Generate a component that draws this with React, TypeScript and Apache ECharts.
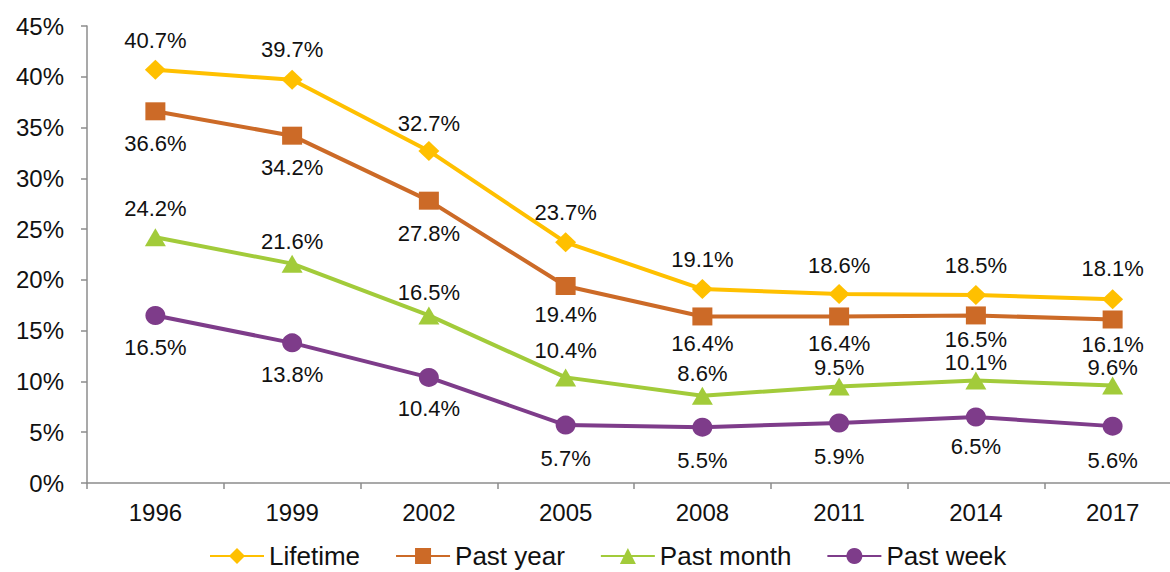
import React, { useEffect, useRef } from "react";
import * as echarts from "echarts";

const years = ["1996", "1999", "2002", "2005", "2008", "2011", "2014", "2017"];
const lifetime = [40.7, 39.7, 32.7, 23.7, 19.1, 18.6, 18.5, 18.1];
const pastYear = [36.6, 34.2, 27.8, 19.4, 16.4, 16.4, 16.5, 16.1];
const pastMonth = [24.2, 21.6, 16.5, 10.4, 8.6, 9.5, 10.1, 9.6];
const pastWeek = [16.5, 13.8, 10.4, 5.7, 5.5, 5.9, 6.5, 5.6];

// label centre distance from the point (px), as placed in the original
const lifetimeLabelGap = [29, 30, 27, 30, 30, 29, 30, 31];
const pastYearLabelGap = [32, 32, 33, 29, 27, 27, 24, 25];
const pastMonthLabelGap = [29, 22, 23, 27, 22, 19, 17, 16];
const pastWeekLabelGap = [32, 32, 31, 33, 33, 33, 30, 34];

const FONT = "'Liberation Sans', Arial, sans-serif";

export default function App() {
  const ref = useRef<HTMLDivElement>(null);
  useEffect(() => {
    if (!ref.current) return;
    const chart = echarts.init(ref.current, undefined, { renderer: "svg" });
    const mk = (
      name: string,
      values: number[],
      gaps: number[],
      color: string,
      symbol: string,
      size: number[],
      pos: string
    ) => ({
      name,
      type: "line",
      data: values.map((v, i) => ({
        value: v,
        label: { distance: Math.max(0, gaps[i] - size[1] / 2 - 9) },
      })),
      symbol,
      symbolSize: size,
      lineStyle: { color, width: 4 },
      itemStyle: { color },
      label: {
        show: true,
        position: pos,
        formatter: (p: any) => Number(p.value).toFixed(1) + "%",
        color: "#111",
        fontSize: 22,
        lineHeight: 18,
        fontFamily: FONT,
      },
    });
    chart.setOption({
      animation: false,
      textStyle: { fontFamily: FONT },
      grid: { left: 87, right: 0, top: 26, bottom: 89 },
      legend: {
        left: 209,
        top: 543,
        padding: 0,
        itemWidth: 54,
        itemHeight: 20,
        itemGap: 35,
        textStyle: { fontSize: 26, lineHeight: 20, color: "#111", fontFamily: FONT },
        data: ["Lifetime", "Past year", "Past month", "Past week"],
      },
      xAxis: {
        type: "category",
        data: years,
        boundaryGap: true,
        axisLine: { lineStyle: { color: "#8c8c8c", width: 1.5 } },
        axisTick: { show: true, length: 6, lineStyle: { color: "#8c8c8c", width: 1.5 } },
        axisLabel: { fontSize: 24, color: "#111", margin: 17, fontFamily: FONT },
        splitLine: { show: false },
      },
      yAxis: {
        type: "value",
        min: 0,
        max: 45,
        interval: 5,
        axisLine: { show: true, lineStyle: { color: "#8c8c8c", width: 1.5 } },
        axisTick: { show: true, length: 6, lineStyle: { color: "#8c8c8c", width: 1.5 } },
        axisLabel: { fontSize: 24, color: "#111", margin: 23, formatter: "{value}%", fontFamily: FONT },
        splitLine: { show: false },
      },
      series: [
        mk("Lifetime", lifetime, lifetimeLabelGap, "#FFC000", "diamond", [21, 20], "top"),
        mk("Past year", pastYear, pastYearLabelGap, "#CC6A27", "rect", [20, 18], "bottom"),
        mk("Past month", pastMonth, pastMonthLabelGap, "#A2CB3A", "triangle", [21, 18], "top"),
        mk("Past week", pastWeek, pastWeekLabelGap, "#7E3C8A", "circle", [20, 19], "bottom"),
      ],
    });
    return () => chart.dispose();
  }, []);
  return (
    <div style={{ position: "fixed", left: 0, top: 0, width: 1170, height: 572, overflow: "hidden", background: "#fff" }}>
      <div ref={ref} style={{ width: 1181, height: 572 }} />
    </div>
  );
}
